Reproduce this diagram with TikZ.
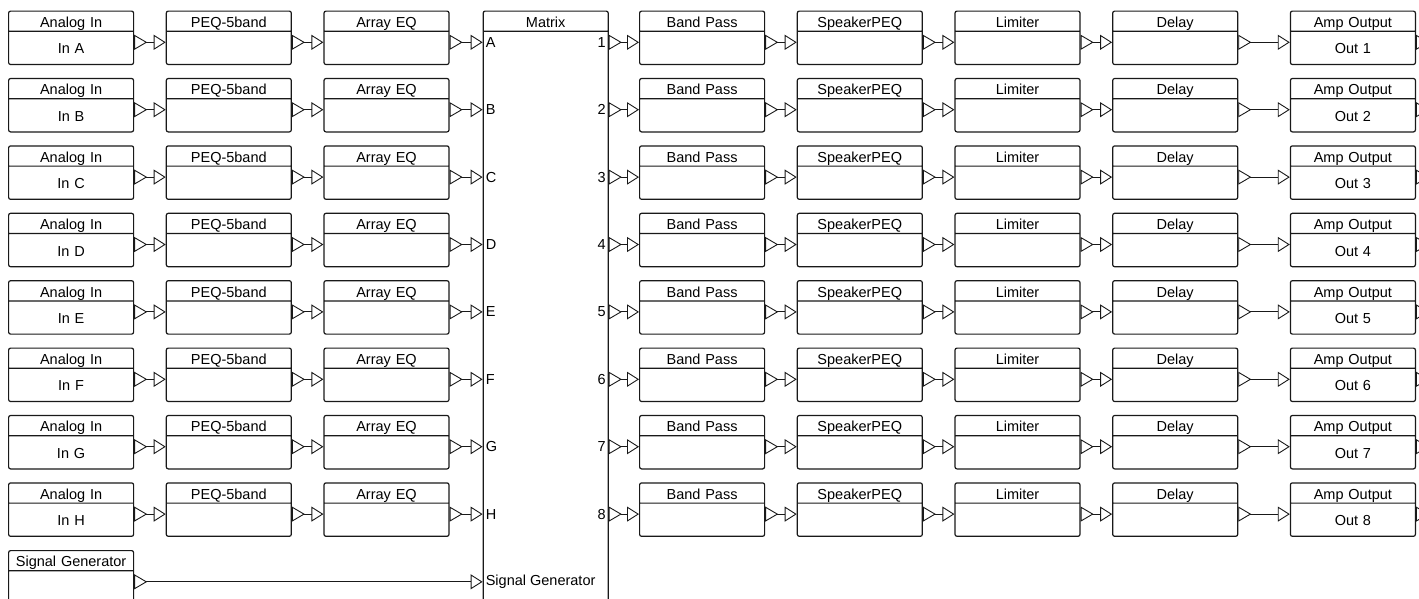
\documentclass[tikz,border=0pt]{standalone}
\usepackage{fontspec}
\setmainfont{Liberation Sans}
\usepackage{xcolor}
\usetikzlibrary{shapes,arrows.meta,positioning}
\definecolor{dcLine}{RGB}{25,25,25}

\newcommand{\hdstrut}{\rule[-3.3pt]{0pt}{19pt}}
\newcommand{\bdstrut}{\rule[-10pt]{0pt}{32pt}}

\tikzset{
  blk/.style={draw=dcLine, line width=1.2pt, rounded corners=2pt,
    rectangle split, rectangle split parts=2, text width=125pt,
    align=center, inner sep=0pt, font=\fontsize{14.5pt}{17pt}\selectfont},
  portlbl/.style={inner sep=3pt, font=\fontsize{14.5pt}{17pt}\selectfont},
  link/.style={draw=dcLine, line width=0.9pt,
    {Triangle[open, reversed, length=13pt, width=15pt]}-{Triangle[open, length=12pt, width=15pt]}},
  outlink/.style={draw=dcLine, line width=0.9pt,
    {Triangle[open, reversed, length=13pt, width=15pt]}-},
}

\begin{document}
\begin{tikzpicture}[x=1pt, y=-1pt, node distance=31.5pt]
  \clip (0,0) rectangle (1419,598);
  \useasboundingbox (0,0) rectangle (1419,598);

  % input side
  \foreach \row/\ltr in {1/A,2/B,3/C,4/D,5/E,6/F,7/G,8/H} {
    \node[blk, anchor=north west] (in\row) at (8, {10.5+67.4*(\row-1)}) {\hdstrut Analog In\nodepart{two}\bdstrut In \ltr};
    \node[blk, right=of in\row] (peq\row) {\hdstrut PEQ-5band\nodepart{two}\bdstrut};
    \node[blk, right=of peq\row] (aeq\row) {\hdstrut Array EQ\nodepart{two}\bdstrut};
    \coordinate (p\row) at ([yshift=-11pt]aeq\row.text split east);
    \draw[link] ([yshift=-11pt]in\row.text split east) -- ([yshift=-11pt]peq\row.text split west);
    \draw[link] ([yshift=-11pt]peq\row.text split east) -- ([yshift=-11pt]aeq\row.text split west);
  }

  % matrix
  \node[blk, anchor=north west] (mtx) at ([xshift=33pt]aeq1.north east) {\hdstrut Matrix\nodepart{two}\rule[-620pt]{0pt}{620pt}};

  % signal generator
  \node[blk, anchor=north west] (sg) at (8, 550) {\hdstrut Signal Generator\nodepart{two}\rule[-45pt]{0pt}{45pt}};
  \coordinate (s) at ([yshift=-11pt]sg.text split east);
  \draw[link] (s) -- (s -| mtx.west);
  \node[portlbl, anchor=west] at (s -| mtx.west) {Signal Generator};

  % output side
  \foreach \row/\ltr in {1/A,2/B,3/C,4/D,5/E,6/F,7/G,8/H} {
    \node[portlbl, anchor=west] at (p\row -| mtx.west) {\ltr};
    \node[portlbl, anchor=east] at (p\row -| mtx.east) {\row};
    \draw[link] (p\row) -- (p\row -| mtx.west);
    \node[blk, anchor=north west] (bp\row) at (639, {10.5+67.4*(\row-1)}) {\hdstrut Band Pass\nodepart{two}\bdstrut};
    \node[blk, right=of bp\row] (spk\row) {\hdstrut SpeakerPEQ\nodepart{two}\bdstrut};
    \node[blk, right=of spk\row] (lim\row) {\hdstrut Limiter\nodepart{two}\bdstrut};
    \node[blk, right=of lim\row] (dly\row) {\hdstrut Delay\nodepart{two}\bdstrut};
    \node[blk, right=51.5pt of dly\row] (amp\row) {\hdstrut Amp Output\nodepart{two}\bdstrut Out \row};
    \coordinate (q\row) at ([xshift=30pt, yshift=-11pt]amp\row.text split east);
    \draw[link] (p\row -| mtx.east) -- ([yshift=-11pt]bp\row.text split west);
    \draw[link] ([yshift=-11pt]bp\row.text split east) -- ([yshift=-11pt]spk\row.text split west);
    \draw[link] ([yshift=-11pt]spk\row.text split east) -- ([yshift=-11pt]lim\row.text split west);
    \draw[link] ([yshift=-11pt]lim\row.text split east) -- ([yshift=-11pt]dly\row.text split west);
    \draw[link] ([yshift=-11pt]dly\row.text split east) -- ([yshift=-11pt]amp\row.text split west);
    \draw[outlink] ([yshift=-11pt]amp\row.text split east) -- (q\row);
  }
\end{tikzpicture}
\end{document}
